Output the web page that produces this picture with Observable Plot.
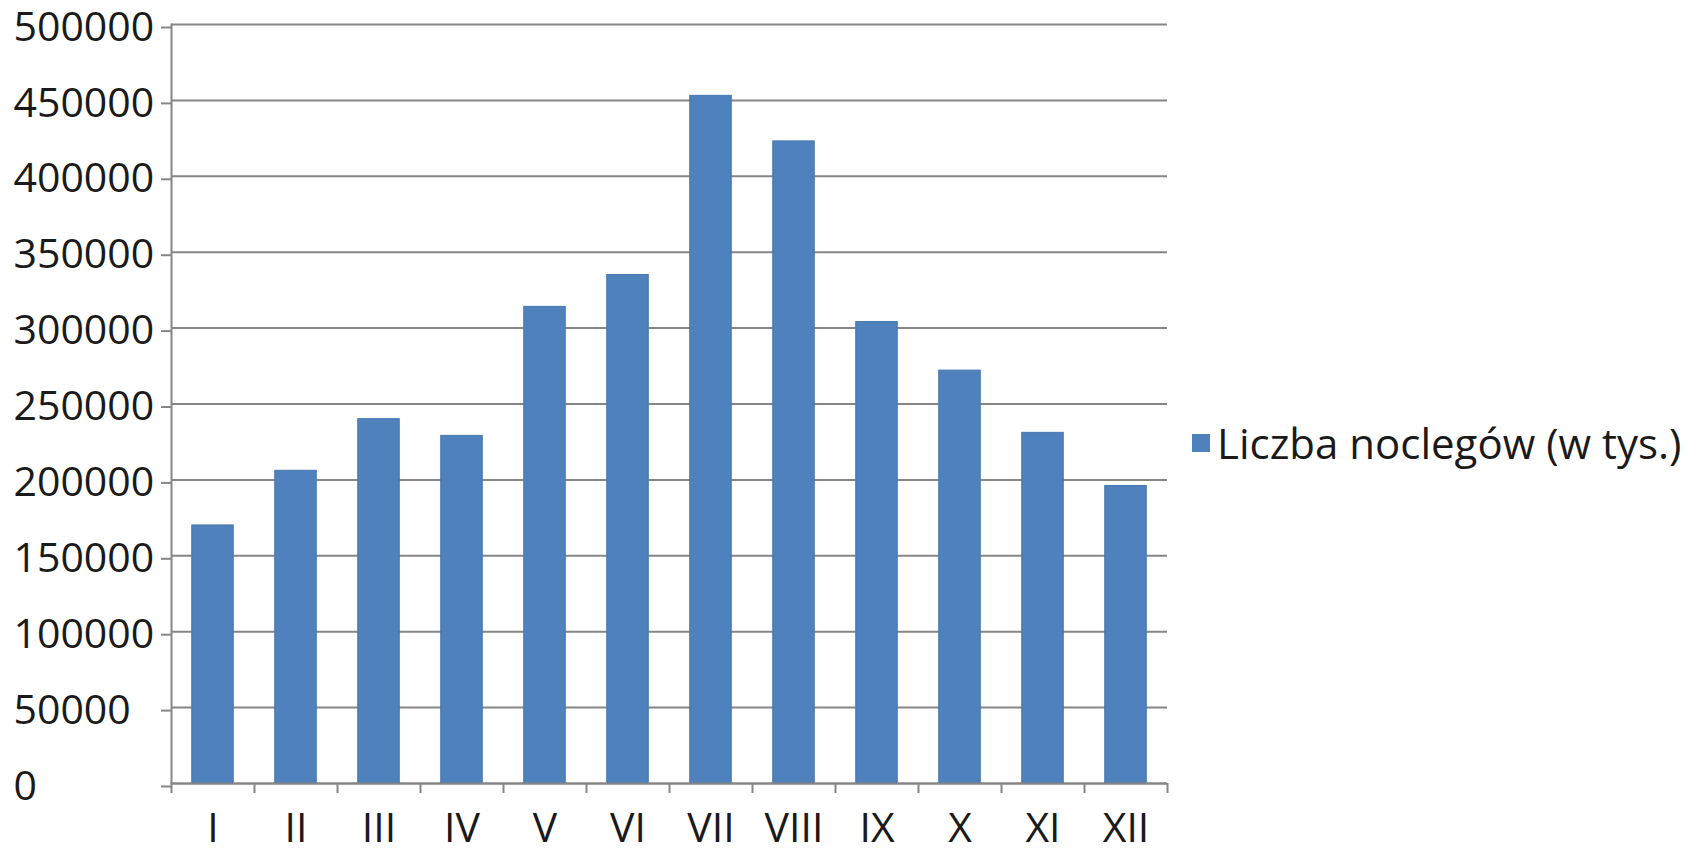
<!DOCTYPE html>
<html>
<head>
<meta charset="utf-8">
<script src="https://cdn.jsdelivr.net/npm/d3@7"></script>
<script src="https://cdn.jsdelivr.net/npm/@observablehq/plot@0.6"></script>
<style>
  html, body { margin: 0; padding: 0; background: #fff; }
  #wrap { position: relative; width: 1701px; height: 852px; }
  #legend { position: absolute; left: 1192px; top: 414px; display: flex; align-items: center;
    font-family: "Open Sans", sans-serif; font-size: 42px; color: #1a1a1a; white-space: nowrap; }
  #legend .sw { width: 18px; height: 18px; background: #4F81BD; margin-right: 7px; }
</style>
</head>
<body>
<div id="wrap"><div id="legend"><span class="sw"></span><span>Liczba noclegów (w tys.)</span></div></div>
<script>
const months = ["I","II","III","IV","V","VI","VII","VIII","IX","X","XI","XII"];
const values = [170000, 206000, 240000, 229000, 314000, 335000, 453000, 423000, 304000, 272000, 231000, 196000];
const yTicks = [0, 50000, 100000, 150000, 200000, 250000, 300000, 350000, 400000, 450000, 500000];
const seriesName = "Liczba noclegów (w tys.)";

const data = months.map((m, i) => ({month: m, i, value: values[i]}));
const boundaries = d3.range(months.length + 1);
const centers = months.map((m, i) => i + 0.5);

const gray = "#868686";
const chart = Plot.plot({
  width: 1701,
  height: 852,
  marginLeft: 171,
  marginRight: 534,
  marginTop: 24,
  marginBottom: 69,
  style: {fontFamily: "'Open Sans', sans-serif", background: "#fff", overflow: "visible"},
  x: {domain: [0, months.length], label: null},
  y: {domain: [0, 500000], label: null},
  marks: [
    Plot.gridY(yTicks, {stroke: gray, strokeOpacity: 1, strokeWidth: 2}),
    Plot.rectY(data, {x1: "i", x2: d => d.i + 1, y: "value", fill: "#4F81BD", insetLeft: 20.75, insetRight: 20.75,
      stroke: "#4677b0", strokeWidth: 1}),
    Plot.axisY(yTicks, {label: null, tickSize: 10, stroke: gray, strokeWidth: 2, tickPadding: 148, textAnchor: "start",
      tickFormat: d => String(d), fontSize: 41, fill: "#1a1a1a", dy: 3}),
    Plot.axisX(boundaries, {label: null, tickSize: 10, stroke: gray, strokeWidth: 2, text: null}),
    Plot.axisX(centers, {label: null, tickSize: 0, tickPadding: 29, tickFormat: d => months[Math.floor(d)], fontSize: 41, fill: "#1a1a1a"}),
    Plot.frame({anchor: "left", stroke: gray, strokeWidth: 2}),
    Plot.ruleY([0], {stroke: gray, strokeWidth: 2})
  ]
});
document.getElementById("wrap").prepend(chart);
chart.style.position = "absolute";
chart.style.left = "0";
chart.style.top = "0";
</script>
</body>
</html>
